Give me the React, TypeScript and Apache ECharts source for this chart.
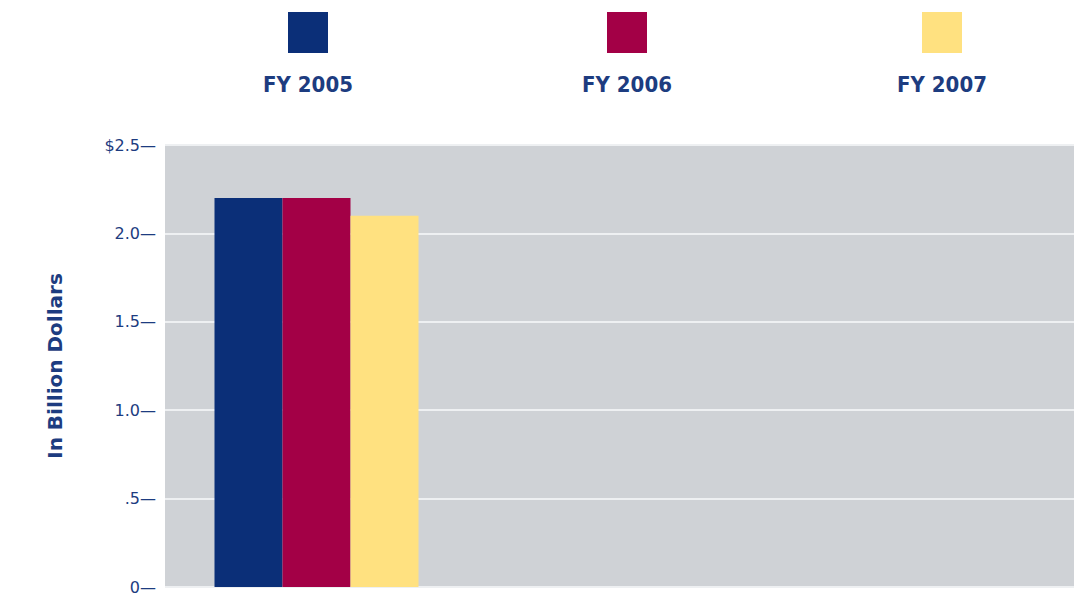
import React, { useEffect, useRef } from "react";
import * as echarts from "echarts";

const categories = ["Total", "", ""];
const seriesNames = ["FY 2005", "FY 2006", "FY 2007"];
const seriesColors = ["#0b2f78", "#a30046", "#ffe180"];
const fy2005 = [2.2];
const fy2006 = [2.2];
const fy2007 = [2.1];
const yTickValues = [0, 0.5, 1.0, 1.5, 2.0, 2.5];
const yTickLabels = ["0", ".5", "1.0", "1.5", "2.0", "$2.5"];
const yAxisTitle = "In Billion Dollars";

const NAVY = "#1d3c80";

export default function App() {
  const ref = useRef<HTMLDivElement>(null);
  useEffect(() => {
    if (!ref.current) return;
    const chart = echarts.init(ref.current, null, { renderer: "svg" });
    const values = [fy2005, fy2006, fy2007];
    const legendCenters = [308, 627, 942];
    const legendGraphics: any[] = [];
    seriesNames.forEach((name, i) => {
      legendGraphics.push({
        type: "rect",
        shape: { x: legendCenters[i] - 20, y: 12, width: 40, height: 41 },
        style: { fill: seriesColors[i] },
      });
      legendGraphics.push({
        type: "text",
        x: legendCenters[i],
        y: 84,
        style: {
          text: name,
          fill: NAVY,
          font: "bold 22px 'DejaVu Sans Condensed', 'DejaVu Sans', sans-serif",
          textAlign: "center",
          textVerticalAlign: "middle",
        },
      });
    });
    chart.setOption({
      animation: false,
      backgroundColor: "#ffffff",
      grid: {
        left: 165,
        right: -9,
        top: 145,
        bottom: 6,
        show: true,
        backgroundColor: "#cfd2d6",
        borderWidth: 0,
      },
      graphic: legendGraphics,
      xAxis: {
        type: "category",
        data: categories,
        axisLine: { show: false },
        axisTick: { show: false },
        axisLabel: { show: false },
        splitLine: { show: false },
      },
      yAxis: {
        type: "value",
        min: 0,
        max: 2.5,
        interval: 0.5,
        name: yAxisTitle,
        nameLocation: "middle",
        nameGap: 100,
        nameRotate: 90,
        nameTextStyle: {
          color: NAVY,
          fontSize: 20,
          fontWeight: "bold",
          fontFamily: "'DejaVu Sans', sans-serif",
        },
        axisLine: { show: false },
        axisTick: { show: false },
        axisLabel: {
          margin: 9,
          color: NAVY,
          fontSize: 16,
          fontFamily: "'DejaVu Sans', sans-serif",
          formatter: (v: number) => {
            const idx = yTickValues.findIndex((t) => Math.abs(t - v) < 1e-6);
            return (idx >= 0 ? yTickLabels[idx] : String(v)) + "—";
          },
        },
        splitLine: { show: true, lineStyle: { color: "#eef0f2", width: 2 } },
      },
      series: seriesNames.map((name, i) => ({
        type: "bar",
        name,
        data: values[i],
        barWidth: 68,
        barGap: "0%",
        itemStyle: { color: seriesColors[i] },
      })),
    });
    return () => chart.dispose();
  }, []);
  return (
    <div
      ref={ref}
      style={{ position: "fixed", left: 0, top: 0, width: 1074, height: 595 }}
    />
  );
}
